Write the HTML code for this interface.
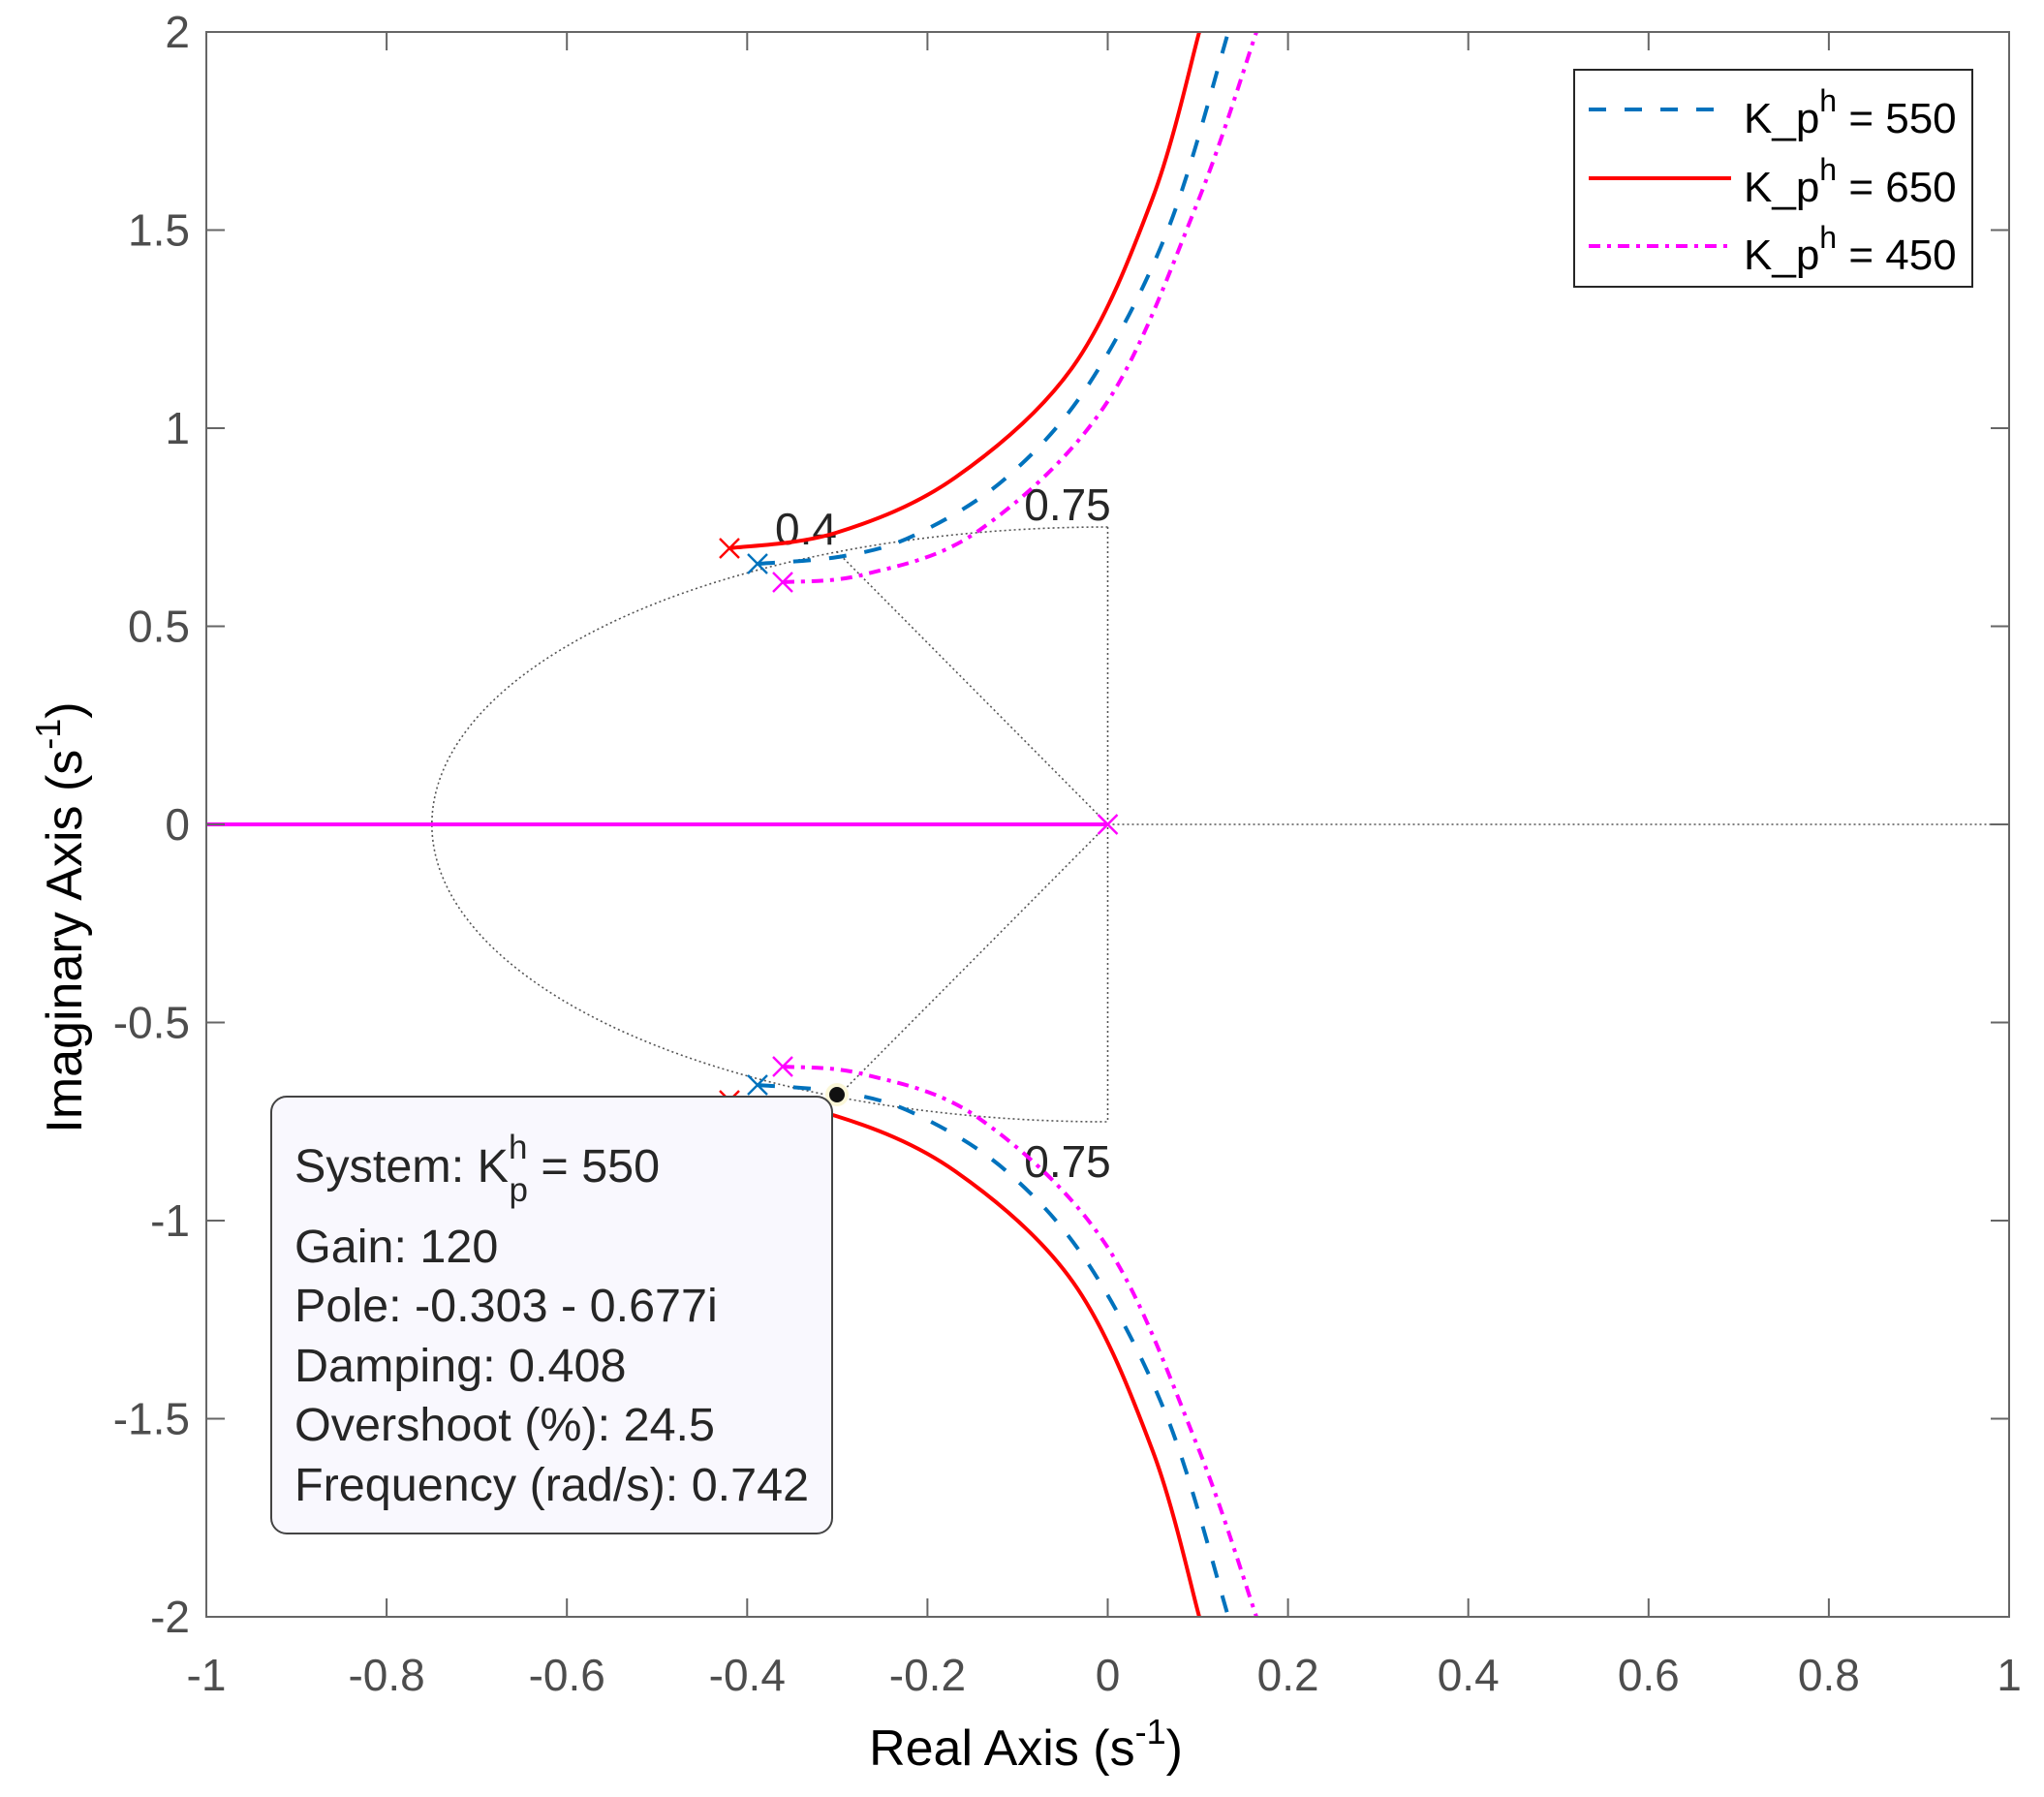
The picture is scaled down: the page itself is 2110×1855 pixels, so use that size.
<!DOCTYPE html>
<html><head><meta charset="utf-8"><style>
html,body{margin:0;padding:0;background:#fff;}
svg{display:block;font-family:"Liberation Sans",Arial,sans-serif;}
</style></head><body>
<svg id="s" width="2110" height="1855" viewBox="0 0 2110 1855" xmlns="http://www.w3.org/2000/svg">
<rect x="0" y="0" width="2110" height="1855" fill="#fff"/>
<g fill="none" stroke="#555" stroke-width="1.6" stroke-dasharray="2 3">
<path d="M1143.5 544 A698 307 0 0 0 1143.5 1158"/>
<line x1="1143.5" y1="544" x2="1143.5" y2="1158"/>
<line x1="1143.5" y1="851" x2="864.5" y2="570"/>
<line x1="1143.5" y1="851" x2="864.5" y2="1132"/>
<line x1="1143.5" y1="851" x2="2074" y2="851"/>
</g>
<g font-size="46" fill="#262626">
<text x="1102" y="537" text-anchor="middle">0.75</text>
<text x="832" y="562" text-anchor="middle">0.4</text>
<text x="1102" y="1215" text-anchor="middle">0.75</text>
</g>
<line x1="213" y1="851" x2="1143.5" y2="851" stroke="#ff0000" stroke-width="4"/>
<line x1="213" y1="851" x2="1143.5" y2="851" stroke="#ff00ff" stroke-width="4"/>
<g id="curves" fill="none" stroke-width="4"></g>
<g id="marks" fill="none" stroke-width="2.4"></g>
<g stroke="#666" stroke-width="2" fill="none">
<rect x="213" y="33" width="1861" height="1636"/>
<g id="ticks"></g>
</g>
<g id="ticklabels" font-size="46" fill="#4d4d4d"></g>
<text x="1059" y="1822" font-size="52" text-anchor="middle" fill="#000">Real Axis (s<tspan dy="-22" font-size="36">-1</tspan><tspan dy="22">)</tspan></text>
<text transform="translate(84,947) rotate(-90)" font-size="52" text-anchor="middle" fill="#000">Imaginary Axis (s<tspan dy="-22" font-size="36">-1</tspan><tspan dy="22">)</tspan></text>
<rect x="1625" y="72" width="411" height="224" fill="#fff" stroke="#262626" stroke-width="2"/>
<line x1="1640" y1="113" x2="1775" y2="113" stroke="#0072bd" stroke-width="4" stroke-dasharray="18 19"/>
<line x1="1640" y1="184" x2="1787" y2="184" stroke="#ff0000" stroke-width="4"/>
<line x1="1640" y1="254" x2="1787" y2="254" stroke="#ff00ff" stroke-width="4" stroke-dasharray="12 7 4 7"/>
<g font-size="44" fill="#000">
<text x="1800" y="137">K_p<tspan dy="-22" font-size="32">h</tspan><tspan dy="22"> = 550</tspan></text>
<text x="1800" y="208">K_p<tspan dy="-22" font-size="32">h</tspan><tspan dy="22"> = 650</tspan></text>
<text x="1800" y="278">K_p<tspan dy="-22" font-size="32">h</tspan><tspan dy="22"> = 450</tspan></text>
</g>
<circle cx="864" cy="1130" r="12" fill="#fbf7d8"/>
<circle cx="864" cy="1130" r="8" fill="#111"/>
<rect x="280" y="1132" width="579" height="451" rx="16" ry="16" fill="#f9f8fe" stroke="#444" stroke-width="2"/>
<g font-size="48.5" fill="#262626">
<text x="304" y="1220">System: K<tspan dy="-24" font-size="35">h</tspan><tspan dx="-19" dy="44" font-size="35">p</tspan><tspan dy="-20"> = 550</tspan></text>
<text x="304" y="1303">Gain: 120</text>
<text x="304" y="1364">Pole: -0.303 - 0.677i</text>
<text x="304" y="1426">Damping: 0.408</text>
<text x="304" y="1487">Overshoot (%): 24.5</text>
<text x="304" y="1549">Frequency (rad/s): 0.742</text>
</g>
</svg>
<script>
(function(){
var NS="http://www.w3.org/2000/svg";
function el(t,a,p){var e=document.createElementNS(NS,t);for(var k in a)e.setAttribute(k,a[k]);p.appendChild(e);return e;}
function cr(pts){var d="M"+pts[0][0]+" "+pts[0][1];for(var i=0;i<pts.length-1;i++){var p0=pts[i-1]||pts[i],p1=pts[i],p2=pts[i+1],p3=pts[i+2]||p2;
var c1=[p1[0]+(p2[0]-p0[0])/6,p1[1]+(p2[1]-p0[1])/6],c2=[p2[0]-(p3[0]-p1[0])/6,p2[1]-(p3[1]-p1[1])/6];
d+=" C"+c1.join(" ")+" "+c2.join(" ")+" "+p2.join(" ");}return d;}
var series=[
{c:"#ff0000",da:"",p:[[753,566],[863,550],[986,493],[1108,378],[1190,204],[1238,33]]},
{c:"#0072bd",da:"18 19",p:[[782,582],[871,574],[945,552],[1039,493],[1125,395],[1206,236],[1268,33]]},
{c:"#ff00ff",da:"12 7 4 7",p:[[808,601],[892,593],[1010,548],[1141,418],[1235,212],[1297,33]]}];
var g=document.getElementById("curves"),m=document.getElementById("marks");
series.forEach(function(s){
 var up=s.p, lo=s.p.map(function(q){return [q[0],1702-q[1]];});
 [up,lo].forEach(function(pp){var a={d:cr(pp),stroke:s.c};if(s.da)a["stroke-dasharray"]=s.da;el("path",a,g);
  var x=pp[0][0],y=pp[0][1],r=10;el("path",{d:"M"+(x-r)+" "+(y-r)+"L"+(x+r)+" "+(y+r)+"M"+(x-r)+" "+(y+r)+"L"+(x+r)+" "+(y-r),stroke:s.c},m);});
});
el("path",{d:"M1133.5 841L1153.5 861M1133.5 861L1153.5 841",stroke:"#ff00ff"},m);
var t=document.getElementById("ticks"),tl=document.getElementById("ticklabels");
var xl=["-1","-0.8","-0.6","-0.4","-0.2","0","0.2","0.4","0.6","0.8","1"];
for(var i=0;i<=10;i++){var x=213+i*186.1;
 if(i>0&&i<10){el("line",{x1:x,y1:1669,x2:x,y2:1650},t);el("line",{x1:x,y1:33,x2:x,y2:52},t);}
 var tx=el("text",{x:x,y:1745,"text-anchor":"middle"},tl);tx.textContent=xl[i];}
var yl=["2","1.5","1","0.5","0","-0.5","-1","-1.5","-2"];
for(var j=0;j<=8;j++){var y=33+j*204.5;
 if(j>0&&j<8){el("line",{x1:213,y1:y,x2:232,y2:y},t);el("line",{x1:2074,y1:y,x2:2055,y2:y},t);}
 var ty=el("text",{x:196,y:y+16,"text-anchor":"end"},tl);ty.textContent=yl[j];}
})();
</script>
</body></html>
